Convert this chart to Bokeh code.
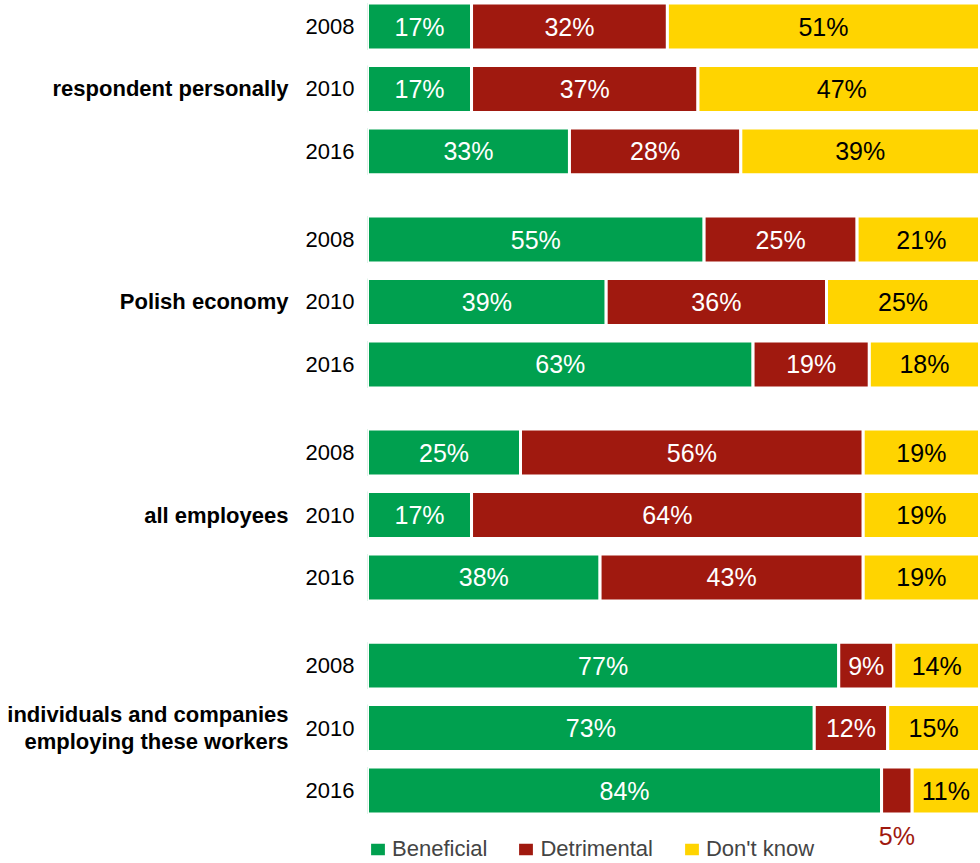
from bokeh.plotting import figure
from bokeh.models import (ColumnDataSource, Range1d, LinearAxis, FixedTicker,
                          Legend, LegendItem)
from bokeh.core.properties import value
from bokeh.embed import file_html
from bokeh.resources import INLINE

# ---------------- data ----------------
groups = ["respondent personally", "Polish economy", "all employees",
          "individuals and companies\nemploying these workers"]
years = ["2008", "2010", "2016"]

beneficial = [17, 17, 33, 55, 39, 63, 25, 17, 38, 77, 73, 84]
detrimental = [32, 37, 28, 25, 36, 19, 56, 64, 43, 9, 12, 5]
dont_know = [51, 47, 39, 21, 25, 18, 19, 19, 19, 14, 15, 11]

series_names = ["Beneficial", "Detrimental", "Don't know"]
series_colors = ["#00A04F", "#A0190F", "#FFD400"]
label_colors = ["white", "white", "black"]

# ---------------- layout helpers ----------------
FONT = "Liberation Sans"
GROUP_STRIDE = 3.41
BAR_H = 0.75
PX_PER_UNIT = 62.47
W, H = 979, 862
LEFT = 367

ypos, year_labels = [], []
for g in range(len(groups)):
    for i, yr in enumerate(years):
        ypos.append(g * GROUP_STRIDE + i)
        year_labels.append(yr)
group_pos = [g * GROUP_STRIDE + 1 for g in range(len(groups))]

top = -26.0 / PX_PER_UNIT
y_range = Range1d(start=top + H / PX_PER_UNIT, end=top)

p = figure(width=W, height=H, x_range=Range1d(0, 100), y_range=y_range,
           output_backend="svg", toolbar_location=None,
           x_axis_location=None, y_axis_location=None,
           min_border_left=LEFT, min_border_right=0, min_border_top=0,
           min_border_bottom=0, outline_line_color=None)
p.xgrid.visible = False
p.ygrid.visible = False

# ---------------- stacked bars ----------------
n = len(ypos)
start = [0.0] * n
renderers = []
tx, ty, tt, tc = [], [], [], []
for name, vals, col, lcol in zip(series_names, [beneficial, detrimental, dont_know],
                                 series_colors, label_colors):
    left = list(start)
    right = [s + v for s, v in zip(start, vals)]
    src = ColumnDataSource(dict(y=ypos, left=left, right=right))
    r = p.hbar(y="y", left="left", right="right", height=BAR_H, source=src,
               fill_color=col, line_color="white", line_width=3)
    renderers.append(r)
    for yy, l, rr, v in zip(ypos, left, right, vals):
        tx.append((l + rr) / 2)
        tt.append(f"{v}%")
        if v < 6:
            ty.append(yy + 0.73)
            tc.append(col)
        else:
            ty.append(yy)
            tc.append(lcol)
    start = right

tsrc = ColumnDataSource(dict(x=tx, y=ty, text=tt, color=tc))
p.text(x="x", y="y", text="text", text_color="color", source=tsrc,
       text_align="center", text_baseline="middle",
       text_font=value(FONT), text_font_size="25px")

# ---------------- axes (year labels and group labels) ----------------
ax_years = LinearAxis(ticker=FixedTicker(ticks=ypos),
                      major_label_overrides={y: l for y, l in zip(ypos, year_labels)},
                      axis_line_color=None, major_tick_line_color=None,
                      minor_tick_line_color=None, major_tick_out=0, major_tick_in=0,
                      major_label_standoff=13, major_label_text_font=FONT,
                      major_label_text_font_size="22px",
                      major_label_text_color="black")
p.add_layout(ax_years, "left")

ax_groups = LinearAxis(ticker=FixedTicker(ticks=group_pos),
                       major_label_overrides={y: l for y, l in zip(group_pos, groups)},
                       axis_line_color=None, major_tick_line_color=None,
                       minor_tick_line_color=None, major_tick_out=0, major_tick_in=0,
                       major_label_standoff=14, major_label_text_font=FONT,
                       major_label_text_font_size="22px",
                       major_label_text_font_style="bold",
                       major_label_text_line_height=1.1,
                       major_label_text_color="black")
p.add_layout(ax_groups, "left")

# ---------------- legend ----------------
legend = Legend(items=[LegendItem(label=nm, renderers=[r])
                       for nm, r in zip(series_names, renderers)],
                orientation="horizontal", location=(0, 0),
                label_text_font=FONT, label_text_font_size="22px",
                glyph_width=21, glyph_height=18, label_standoff=4, spacing=28,
                padding=0, margin=0, background_fill_alpha=0,
                border_line_color=None)
p.add_layout(legend)

open("out.html", "w").write(file_html(p, INLINE))
